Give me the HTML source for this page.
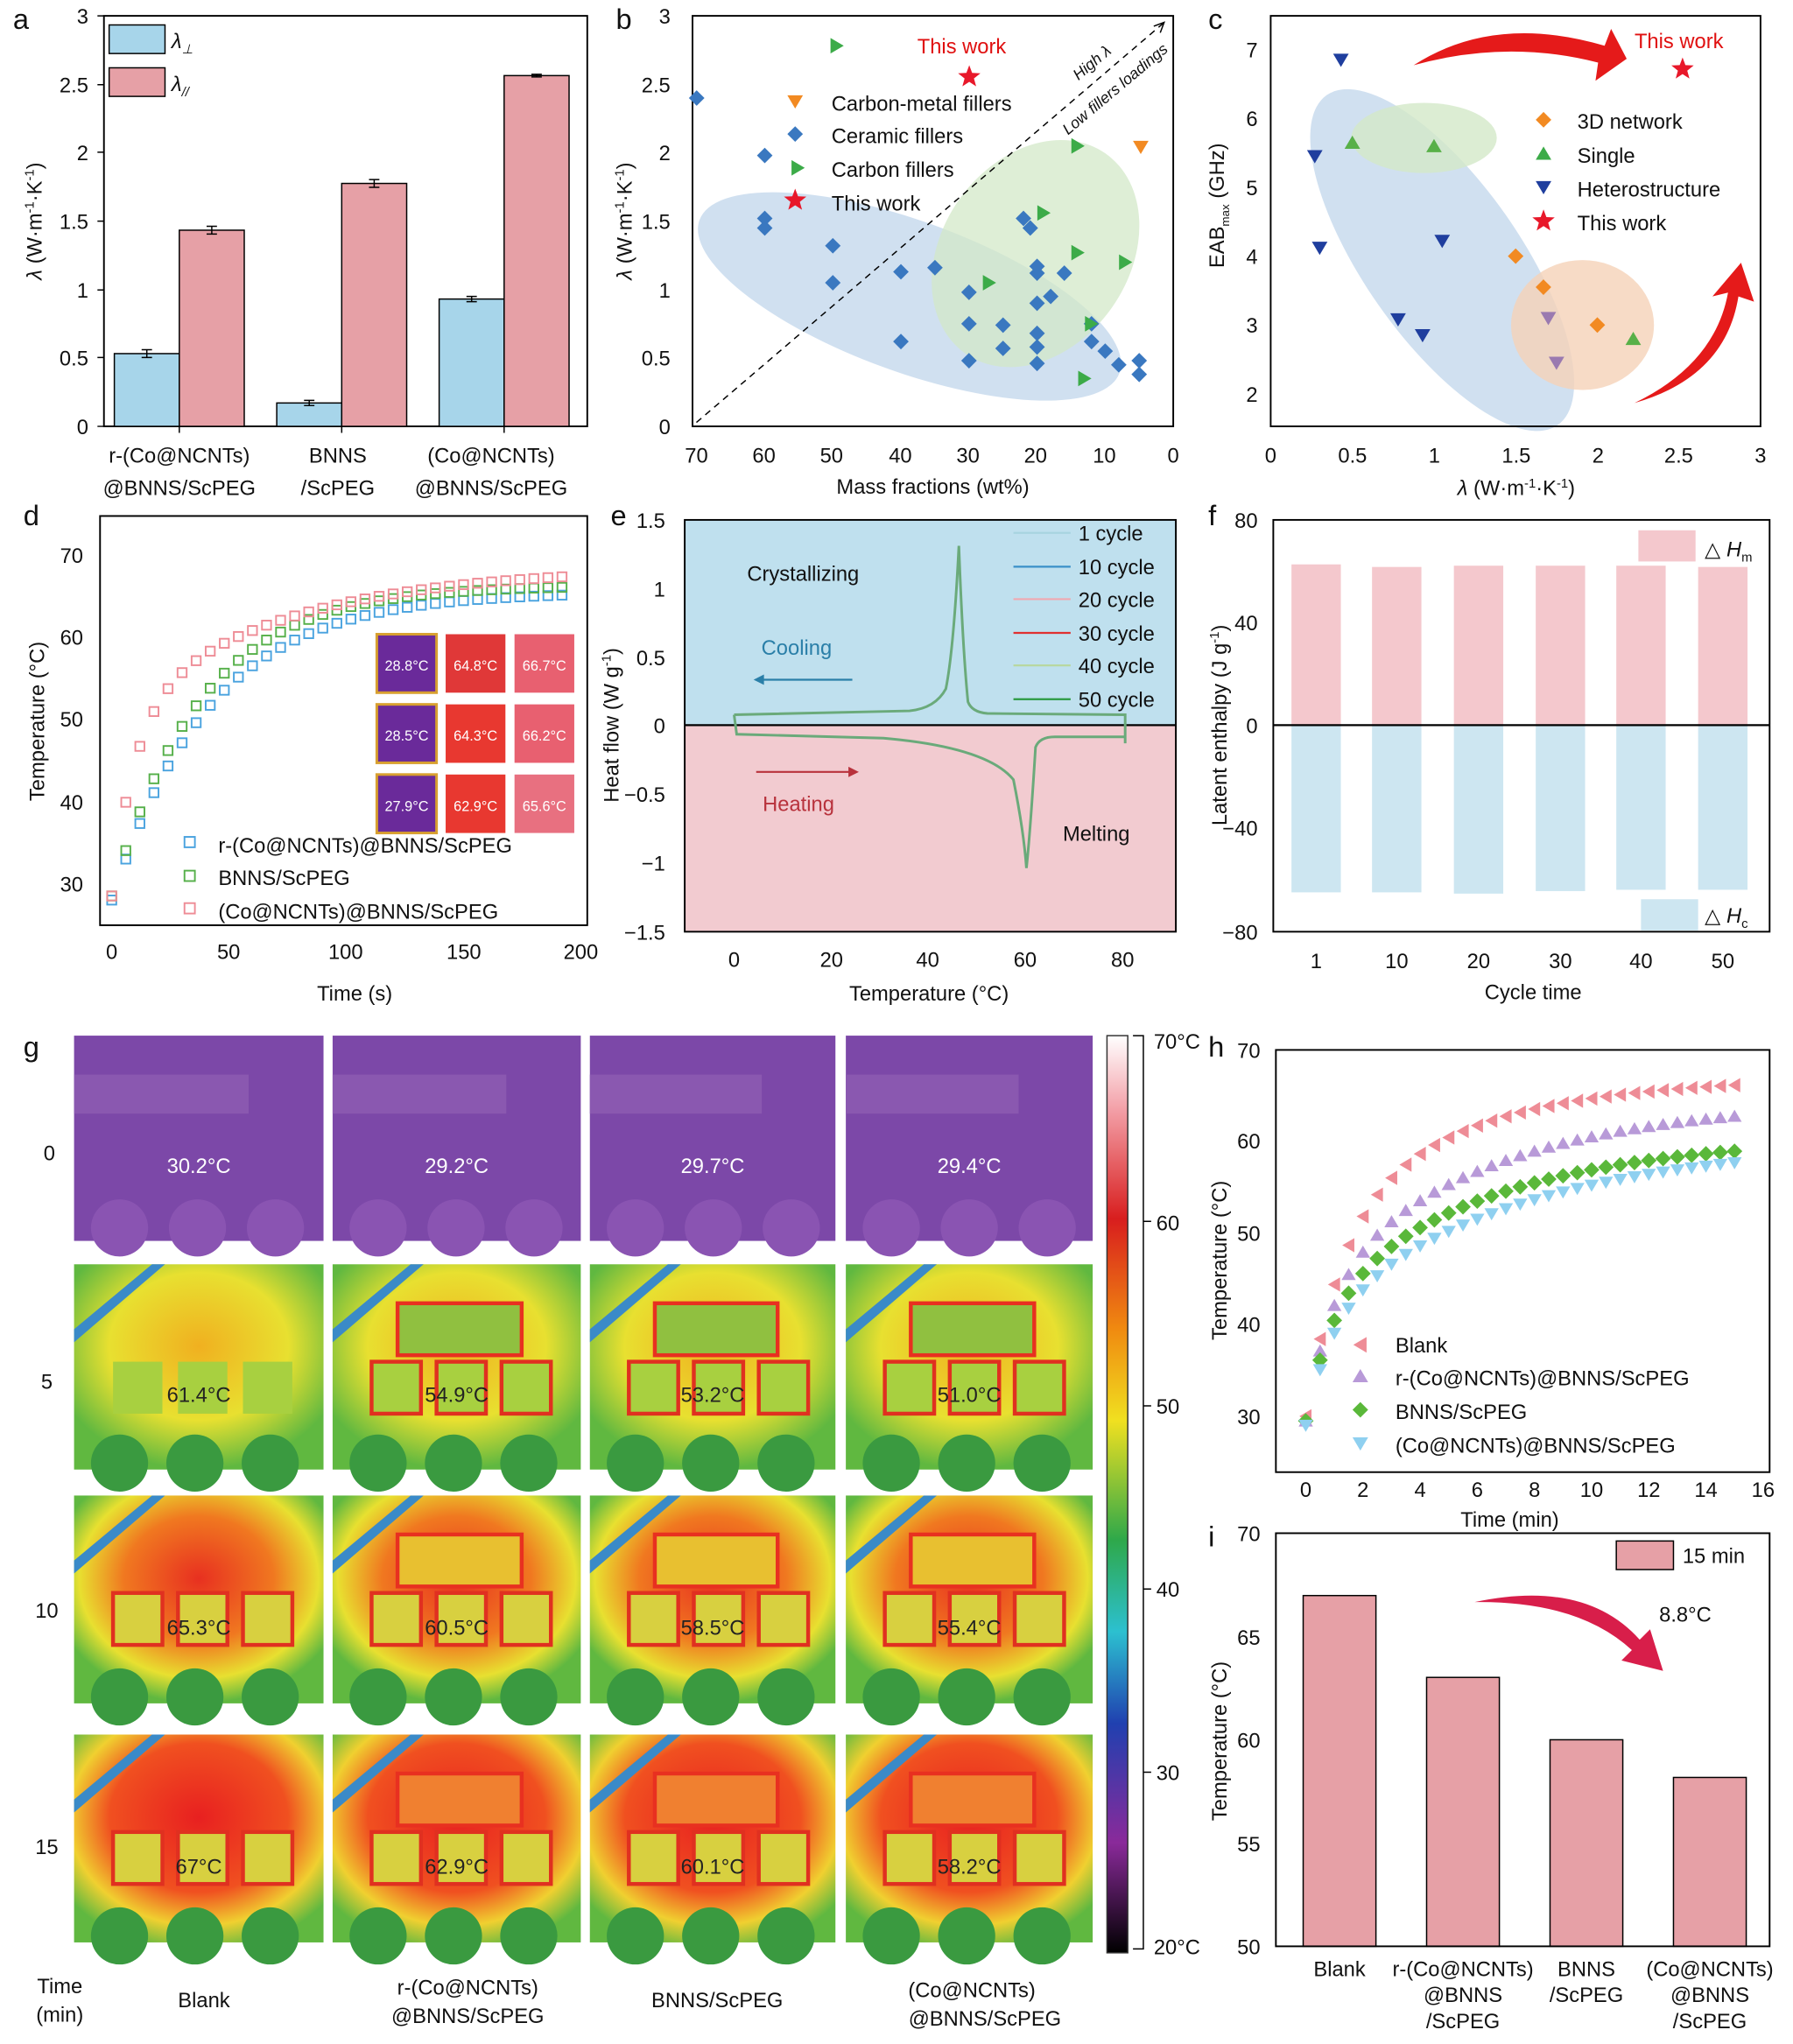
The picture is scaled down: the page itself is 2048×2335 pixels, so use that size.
<!DOCTYPE html>
<html><head><meta charset="utf-8"><style>
html,body{margin:0;padding:0;background:#fff}
svg{display:block}
text{font-family:"Liberation Sans",Arial,sans-serif;fill:#111}
</style></head><body>
<svg id="s" width="2048" height="2335" viewBox="0 0 1380 1573" xmlns="http://www.w3.org/2000/svg">
<defs>
<linearGradient id="cb" x1="0" y1="0" x2="0" y2="1">
<stop offset="0" stop-color="#fff"/><stop offset="0.08" stop-color="#f3a0a8"/><stop offset="0.2" stop-color="#d81e1e"/><stop offset="0.32" stop-color="#f08a10"/><stop offset="0.42" stop-color="#f0e020"/><stop offset="0.55" stop-color="#2ea84a"/><stop offset="0.65" stop-color="#2cc0d0"/><stop offset="0.75" stop-color="#2040b0"/><stop offset="0.88" stop-color="#8a2a9a"/><stop offset="1" stop-color="#000"/></linearGradient>
<radialGradient id="r5" cx="0.5" cy="0.4" r="0.6"><stop offset="0" stop-color="#f0b020"/><stop offset="0.6" stop-color="#e8e030"/><stop offset="1" stop-color="#60b840"/></radialGradient>
<radialGradient id="r10" cx="0.5" cy="0.4" r="0.6"><stop offset="0" stop-color="#e83020"/><stop offset="0.5" stop-color="#f07820"/><stop offset="0.8" stop-color="#e8e030"/><stop offset="1" stop-color="#60b840"/></radialGradient>
<radialGradient id="r15" cx="0.5" cy="0.4" r="0.65"><stop offset="0" stop-color="#e82020"/><stop offset="0.55" stop-color="#f05020"/><stop offset="0.8" stop-color="#f0d030"/><stop offset="1" stop-color="#60b840"/></radialGradient>
</defs>
<g id="root" font-size="16"></g>

<!-- Panel a -->
<text x="10" y="22" font-size="22">a</text>
<rect x="80" y="12" width="372" height="316" fill="none" stroke="#000" stroke-width="1.3"/>
<rect x="88" y="272" width="50" height="56" fill="#a7d5ea" stroke="#000"/>
<rect x="138" y="177" width="50" height="151" fill="#e6a0a6" stroke="#000"/>
<rect x="213" y="310" width="50" height="18" fill="#a7d5ea" stroke="#000"/>
<rect x="263" y="141" width="50" height="187" fill="#e6a0a6" stroke="#000"/>
<rect x="338" y="230" width="50" height="98" fill="#a7d5ea" stroke="#000"/>
<rect x="388" y="58" width="50" height="270" fill="#e6a0a6" stroke="#000"/>
<g stroke="#000"><path d="M113 269v6M109 269h8M109 275h8M163 174v6M159 174h8M159 180h8M238 308v4M234 308h8M234 312h8M288 138v6M284 138h8M284 144h8M363 228v4M359 228h8M359 232h8M413 57v2M409 57h8M409 59h8"/>
<path d="M80 328h-5M80 275h-5M80 223h-5M80 170h-5M80 117h-5M80 65h-5M80 12h-5M138 328v5M263 328v5M388 328v5"/></g>
<g text-anchor="end"><text x="68" y="334">0</text><text x="68" y="281">0.5</text><text x="68" y="229">1</text><text x="68" y="176">1.5</text><text x="68" y="123">2</text><text x="68" y="71">2.5</text><text x="68" y="18">3</text></g>
<rect x="84" y="19" width="43" height="22" fill="#a7d5ea" stroke="#000"/><text x="132" y="37" font-style="italic">λ<tspan font-size="10" dy="4">⊥</tspan></text>
<rect x="84" y="52" width="43" height="22" fill="#e6a0a6" stroke="#000"/><text x="132" y="70" font-style="italic">λ<tspan font-size="10" dy="4">//</tspan></text>
<text transform="translate(32,170) rotate(-90)" text-anchor="middle"><tspan font-style="italic">λ</tspan> (W·m<tspan font-size="10" dy="-6">-1</tspan><tspan dy="6">·K</tspan><tspan font-size="10" dy="-6">-1</tspan><tspan dy="6">)</tspan></text>
<g text-anchor="middle"><text x="138" y="356">r-(Co@NCNTs)</text><text x="138" y="381">@BNNS/ScPEG</text><text x="260" y="356">BNNS</text><text x="260" y="381">/ScPEG</text><text x="378" y="356">(Co@NCNTs)</text><text x="378" y="381">@BNNS/ScPEG</text></g>

<!-- Panel b -->
<text x="474" y="22" font-size="22">b</text>
<ellipse cx="700" cy="228" rx="172" ry="58" transform="rotate(20 700 228)" fill="#bcd3ea" opacity="0.7"/>
<ellipse cx="797" cy="195" rx="72" ry="94" transform="rotate(35 797 195)" fill="#d3e8c8" opacity="0.75"/>
<rect x="533" y="12" width="370" height="316" fill="none" stroke="#000" stroke-width="1.3"/>
<path d="M536 325L895 18" stroke="#000" stroke-dasharray="5,4" fill="none"/><path d="M888 20l8-3-3 8" stroke="#000" fill="none"/>
<text transform="translate(830,62) rotate(-40)" font-size="12" font-style="italic">High λ</text>
<text transform="translate(822,104) rotate(-40)" font-size="12" font-style="italic">Low fillers loadings</text>
<g text-anchor="end"><text x="516" y="334">0</text><text x="516" y="281">0.5</text><text x="516" y="229">1</text><text x="516" y="176">1.5</text><text x="516" y="123">2</text><text x="516" y="71">2.5</text><text x="516" y="18">3</text></g>
<g text-anchor="middle"><text x="536" y="356">70</text><text x="588" y="356">60</text><text x="640" y="356">50</text><text x="693" y="356">40</text><text x="745" y="356">30</text><text x="797" y="356">20</text><text x="850" y="356">10</text><text x="903" y="356">0</text><text x="718" y="380">Mass fractions (wt%)</text></g>
<text transform="translate(486,170) rotate(-90)" text-anchor="middle"><tspan font-style="italic">λ</tspan> (W·m<tspan font-size="10" dy="-6">-1</tspan><tspan dy="6">·K</tspan><tspan font-size="10" dy="-6">-1</tspan><tspan dy="6">)</tspan></text>
<text x="706" y="41" style="fill:#e01010">This work</text>
<text x="640" y="85">Carbon-metal fillers</text><text x="640" y="110">Ceramic fillers</text><text x="640" y="136">Carbon fillers</text><text x="640" y="162">This work</text>
<g id="bpts"></g>

<!-- Panel c -->
<text x="930" y="22" font-size="22">c</text>
<ellipse cx="1110" cy="200" rx="155" ry="60" transform="rotate(55 1110 200)" fill="#bcd3ea" opacity="0.7"/>
<ellipse cx="1096" cy="106" rx="56" ry="27" fill="#d3e8c8" opacity="0.8"/>
<ellipse cx="1218" cy="250" rx="55" ry="50" fill="#f5d2b8" opacity="0.8"/>
<rect x="978" y="12" width="377" height="316" fill="none" stroke="#000" stroke-width="1.3"/>
<g text-anchor="end"><text x="968" y="309">2</text><text x="968" y="256">3</text><text x="968" y="203">4</text><text x="968" y="150">5</text><text x="968" y="97">6</text><text x="968" y="44">7</text></g>
<g text-anchor="middle"><text x="978" y="356">0</text><text x="1041" y="356">0.5</text><text x="1104" y="356">1</text><text x="1167" y="356">1.5</text><text x="1230" y="356">2</text><text x="1292" y="356">2.5</text><text x="1355" y="356">3</text>
<text x="1167" y="381"><tspan font-style="italic">λ</tspan> (W·m<tspan font-size="10" dy="-6">-1</tspan><tspan dy="6">·K</tspan><tspan font-size="10" dy="-6">-1</tspan><tspan dy="6">)</tspan></text></g>
<text transform="translate(942,158) rotate(-90)" text-anchor="middle">EAB<tspan font-size="9" dy="4">max</tspan><tspan dy="-4"> (GHz)</tspan></text>
<text x="1258" y="37" style="fill:#e01010">This work</text>
<text x="1214" y="99">3D network</text><text x="1214" y="125">Single</text><text x="1214" y="151">Heterostructure</text><text x="1214" y="177">This work</text>
<path d="M1088 50Q1150 10 1235 35L1240 22L1252 45L1228 62L1230 48Q1160 30 1088 50Z" fill="#e51a1a"/>
<path d="M1258 310Q1320 280 1330 225L1318 228L1340 202L1350 232L1338 228Q1328 290 1258 310Z" fill="#e51a1a"/>
<g id="cpts"></g>

<!-- Panel d -->
<text x="18" y="404" font-size="22">d</text>
<rect x="77" y="397" width="375" height="315" fill="none" stroke="#000" stroke-width="1.3"/>
<g text-anchor="end"><text x="64" y="433">70</text><text x="64" y="496">60</text><text x="64" y="559">50</text><text x="64" y="623">40</text><text x="64" y="686">30</text></g>
<g text-anchor="middle"><text x="86" y="738">0</text><text x="176" y="738">50</text><text x="266" y="738">100</text><text x="357" y="738">150</text><text x="447" y="738">200</text><text x="273" y="770">Time (s)</text></g>
<text transform="translate(34,555) rotate(-90)" text-anchor="middle">Temperature (°C)</text>
<g id="dpts"></g>
<g id="dimg"></g>
<rect x="142" y="644" width="8" height="8" fill="none" stroke="#4aa3df" stroke-width="1.3"/><text x="168" y="656">r-(Co@NCNTs)@BNNS/ScPEG</text>
<rect x="142" y="670" width="8" height="8" fill="none" stroke="#56b04a" stroke-width="1.3"/><text x="168" y="681">BNNS/ScPEG</text>
<rect x="142" y="695" width="8" height="8" fill="none" stroke="#ee8c96" stroke-width="1.3"/><text x="168" y="707">(Co@NCNTs)@BNNS/ScPEG</text>

<!-- Panel e -->
<text x="470" y="404" font-size="22">e</text>
<rect x="527" y="400" width="378" height="158" fill="#bfe0ee"/>
<rect x="527" y="558" width="378" height="159" fill="#f2cbd0"/>
<rect x="527" y="400" width="378" height="317" fill="none" stroke="#000" stroke-width="1.3"/>
<path d="M527 558H905" stroke="#000" stroke-width="1.5"/>
<g text-anchor="end"><text x="512" y="406">1.5</text><text x="512" y="459">1</text><text x="512" y="512">0.5</text><text x="512" y="564">0</text><text x="512" y="617">−0.5</text><text x="512" y="670">−1</text><text x="512" y="723">−1.5</text></g>
<g text-anchor="middle"><text x="565" y="744">0</text><text x="640" y="744">20</text><text x="714" y="744">40</text><text x="789" y="744">60</text><text x="864" y="744">80</text><text x="715" y="770">Temperature (°C)</text></g>
<text transform="translate(476,558) rotate(-90)" text-anchor="middle">Heat flow (W g<tspan font-size="10" dy="-6">-1</tspan><tspan dy="6">)</tspan></text>
<path d="M565 550L700 547Q720 545 728 530Q734 500 738 420Q741 500 745 540Q748 548 760 549L866 550L866 572M565 550L567 565L680 568Q760 575 780 600Q788 640 790 668Q793 640 797 575Q800 567 812 567L866 567" fill="none" stroke="#6aaa7a" stroke-width="2"/>
<text x="575" y="447">Crystallizing</text>
<text x="586" y="504" style="fill:#2a7fa8">Cooling</text><path d="M656 523H586" stroke="#2a7fa8" stroke-width="1.5"/><path d="M580 523l8-4v8z" fill="#2a7fa8"/>
<text x="587" y="624" style="fill:#b8323c">Heating</text><path d="M582 594H655" stroke="#b8323c" stroke-width="1.5"/><path d="M661 594l-8-4v8z" fill="#b8323c"/>
<text x="818" y="647">Melting</text>
<g stroke-width="1.5"><path d="M780 410h44" stroke="#a8d4e0"/><path d="M780 436h44" stroke="#3a90c8"/><path d="M780 461h44" stroke="#f0a8b0"/><path d="M780 487h44" stroke="#e03030"/><path d="M780 512h44" stroke="#b8d8a0"/><path d="M780 538h44" stroke="#2a9a40"/></g>
<text x="830" y="416">1 cycle</text><text x="830" y="442">10 cycle</text><text x="830" y="467">20 cycle</text><text x="830" y="493">30 cycle</text><text x="830" y="518">40 cycle</text><text x="830" y="544">50 cycle</text>

<!-- Panel f -->
<text x="930" y="404" font-size="22">f</text>
<g id="fbars"></g>
<rect x="980" y="400" width="382" height="317" fill="none" stroke="#000" stroke-width="1.3"/>
<path d="M980 558H1362" stroke="#000" stroke-width="1.5"/>
<g text-anchor="end"><text x="968" y="406">80</text><text x="968" y="485">40</text><text x="968" y="564">0</text><text x="968" y="643">−40</text><text x="968" y="723">−80</text></g>
<g text-anchor="middle"><text x="1013" y="745">1</text><text x="1075" y="745">10</text><text x="1138" y="745">20</text><text x="1201" y="745">30</text><text x="1263" y="745">40</text><text x="1326" y="745">50</text><text x="1180" y="769">Cycle time</text></g>
<text transform="translate(944,558) rotate(-90)" text-anchor="middle">Latent enthalpy (J g<tspan font-size="10" dy="-6">-1</tspan><tspan dy="6">)</tspan></text>
<rect x="1261" y="408" width="44" height="24" fill="#f4c8cd"/><text x="1312" y="428">△ <tspan font-style="italic">H</tspan><tspan font-size="10" dy="4">m</tspan></text>
<rect x="1263" y="692" width="44" height="24" fill="#cde6f1"/><text x="1312" y="710">△ <tspan font-style="italic">H</tspan><tspan font-size="10" dy="4">c</tspan></text>

<!-- Panel g -->
<text x="18" y="813" font-size="22">g</text>
<g id="gimgs"></g>
<g text-anchor="middle"><text x="38" y="893">0</text><text x="36" y="1069">5</text><text x="36" y="1245">10</text><text x="36" y="1427">15</text>
<text x="46" y="1534">Time</text><text x="46" y="1556">(min)</text><text x="157" y="1545">Blank</text><text x="360" y="1535">r-(Co@NCNTs)</text><text x="360" y="1557">@BNNS/ScPEG</text><text x="552" y="1545">BNNS/ScPEG</text><text x="748" y="1537">(Co@NCNTs)</text><text x="758" y="1559">@BNNS/ScPEG</text></g>
<rect x="852" y="797" width="16" height="706" fill="url(#cb)" stroke="#333"/>
<path d="M872 797H880V1500H872M880 940h6M880 1082h6M880 1223h6M880 1364h6" stroke="#000" fill="none"/>
<text x="888" y="807">70°C</text><text x="890" y="947">60</text><text x="890" y="1088">50</text><text x="890" y="1229">40</text><text x="890" y="1370">30</text><text x="888" y="1504">20°C</text>

<!-- Panel h -->
<text x="930" y="813" font-size="22">h</text>
<rect x="982" y="808" width="380" height="325" fill="none" stroke="#000" stroke-width="1.3"/>
<g text-anchor="end"><text x="970" y="814">70</text><text x="970" y="884">60</text><text x="970" y="955">50</text><text x="970" y="1025">40</text><text x="970" y="1096">30</text></g>
<g text-anchor="middle"><text x="1005" y="1152">0</text><text x="1049" y="1152">2</text><text x="1093" y="1152">4</text><text x="1137" y="1152">6</text><text x="1181" y="1152">8</text><text x="1225" y="1152">10</text><text x="1269" y="1152">12</text><text x="1313" y="1152">14</text><text x="1357" y="1152">16</text><text x="1162" y="1175">Time (min)</text></g>
<text transform="translate(944,970) rotate(-90)" text-anchor="middle">Temperature (°C)</text>
<g id="hpts"></g>
<text x="1074" y="1041">Blank</text><text x="1074" y="1066">r-(Co@NCNTs)@BNNS/ScPEG</text><text x="1074" y="1092">BNNS/ScPEG</text><text x="1074" y="1118">(Co@NCNTs)@BNNS/ScPEG</text>

<!-- Panel i -->
<text x="930" y="1190" font-size="22">i</text>
<rect x="1003" y="1228" width="56" height="270" fill="#e6a0a6" stroke="#000"/>
<rect x="1098" y="1291" width="56" height="207" fill="#e6a0a6" stroke="#000"/>
<rect x="1193" y="1339" width="56" height="159" fill="#e6a0a6" stroke="#000"/>
<rect x="1288" y="1368" width="56" height="130" fill="#e6a0a6" stroke="#000"/>
<rect x="982" y="1180" width="380" height="318" fill="none" stroke="#000" stroke-width="1.3"/>
<g text-anchor="end"><text x="970" y="1186">70</text><text x="970" y="1266">65</text><text x="970" y="1345">60</text><text x="970" y="1425">55</text><text x="970" y="1504">50</text></g>
<text transform="translate(944,1340) rotate(-90)" text-anchor="middle">Temperature (°C)</text>
<g text-anchor="middle"><text x="1031" y="1521">Blank</text><text x="1126" y="1521">r-(Co@NCNTs)</text><text x="1126" y="1541">@BNNS</text><text x="1126" y="1561">/ScPEG</text><text x="1221" y="1521">BNNS</text><text x="1221" y="1541">/ScPEG</text><text x="1316" y="1521">(Co@NCNTs)</text><text x="1316" y="1541">@BNNS</text><text x="1316" y="1561">/ScPEG</text></g>
<rect x="1244" y="1186" width="44" height="22" fill="#e6a0a6" stroke="#000"/><text x="1295" y="1203">15 min</text>
<text x="1277" y="1248">8.8°C</text>
<path d="M1135 1233Q1220 1215 1262 1262L1270 1254L1280 1286L1248 1278L1256 1270Q1215 1232 1135 1233Z" fill="#d81e4a"/>

<script>
var NS="http://www.w3.org/2000/svg";
function el(p,t,a){var e=document.createElementNS(NS,t);for(var k in a)e.setAttribute(k,a[k]);document.getElementById(p).appendChild(e);return e;}
function dia(p,x,y,c,s){s=s||6;el(p,"path",{d:"M"+x+" "+(y-s)+"L"+(x+s)+" "+y+"L"+x+" "+(y+s)+"L"+(x-s)+" "+y+"Z",fill:c});}
function tri(p,x,y,c,dir,s){s=s||6;var d;
 if(dir=="d")d="M"+(x-s)+" "+(y-s*0.8)+"L"+(x+s)+" "+(y-s*0.8)+"L"+x+" "+(y+s*0.9)+"Z";
 else if(dir=="u")d="M"+(x-s)+" "+(y+s*0.8)+"L"+(x+s)+" "+(y+s*0.8)+"L"+x+" "+(y-s*0.9)+"Z";
 else if(dir=="r")d="M"+(x-s*0.8)+" "+(y-s)+"L"+(x-s*0.8)+" "+(y+s)+"L"+(x+s*0.9)+" "+y+"Z";
 else d="M"+(x+s*0.8)+" "+(y-s)+"L"+(x+s*0.8)+" "+(y+s)+"L"+(x-s*0.9)+" "+y+"Z";
 el(p,"path",{d:d,fill:c});}
function star(p,x,y,c,r){var d="";for(var i=0;i<10;i++){var a=-Math.PI/2+i*Math.PI/5,rr=i%2?r*0.42:r;d+=(i?"L":"M")+(x+rr*Math.cos(a)).toFixed(1)+" "+(y+rr*Math.sin(a)).toFixed(1);}el(p,"path",{d:d+"Z",fill:c});}
var bx=function(v){return 903-v*5.24},by=function(v){return 328-v*105.3};
var B="#3a78c0",G="#3cab48",O="#f28a22",R="#e8182a";
[[70,2.4],[60,1.98],[60,1.52],[60,1.45],[50,1.32],[50,1.05],[40,1.13],[40,0.62],[35,1.16],[30,0.75],[30,0.48],[25,0.57],[22,1.52],[21,1.45],[20,1.17],[20,1.12],[20,0.9],[20,0.68],[20,0.58],[20,0.46],[18,0.95],[16,1.12],[12,0.75],[12,0.62],[10,0.55],[8,0.45],[5,0.48],[5,0.38],[30,0.98],[25,0.74]].forEach(function(p){dia("bpts",bx(p[0]),by(p[1]),B,6)});
[[20,1.56],[15,1.27],[8,1.2],[15,2.05],[28,1.05],[13,0.75],[14,0.35]].forEach(function(p){tri("bpts",bx(p[0])+5,by(p[1]),G,"r",6)});
tri("bpts",878,113,O,"d",6);tri("bpts",644,35,G,"r",6);star("bpts",746,59,R,9);
tri("bpts",612,78,O,"d",6);dia("bpts",612,103,B,6);tri("bpts",614,129,G,"r",6);star("bpts",612,154,R,9);
var cx=function(v){return 978+v*125.7},cy=function(v){return 303-(v-2)*53};
var DB="#1f3e9e";
[[0.43,6.85],[0.27,5.45],[0.3,4.12],[0.78,3.08],[0.93,2.85],[1.05,4.22]].forEach(function(p){tri("cpts",cx(p[0]),cy(p[1]),DB,"d",6)});
[[1.7,3.1],[1.75,2.45]].forEach(function(p){tri("cpts",cx(p[0]),cy(p[1]),"#9a7ab0","d",6)});
[[0.5,5.65],[1.0,5.6],[2.22,2.8]].forEach(function(p){tri("cpts",cx(p[0]),cy(p[1]),"#58b048","u",6)});
[[1.5,4.0],[1.67,3.55],[2.0,3.0]].forEach(function(p){dia("cpts",cx(p[0]),cy(p[1]),O,6)});
star("cpts",1295,53,R,9);
dia("cpts",1188,92,O,6);tri("cpts",1188,118,G,"u",6);tri("cpts",1188,144,DB,"d",6);star("cpts",1188,170,R,9);
var dx=function(t){return 86+t*1.805},dy=function(T){return 680-(T-30)*6.325};
for(var t=0;t<=196;t+=6){
 var Tb=28+37.5*(1-Math.exp(-t/42)),Tg=28.5+37.8*(1-Math.exp(-t/38)),Tp=28.5+22*(1-Math.exp(-t/10))+18*(1-Math.exp(-t/70));
 [[Tb,"#4aa3df"],[Tg,"#56b04a"],[Tp,"#ee8c96"]].forEach(function(q){el("dpts","rect",{x:dx(t)-3.5,y:dy(q[0])-3.5,width:7,height:7,fill:"none",stroke:q[1],"stroke-width":1.3})});}
var ins=[["#6a2a9a","#e03838","#e86070"],["#6a2a9a","#e83830","#e86070"],["#6a2a9a","#e83830","#e87080"]];
var lab=[["28.8°C","64.8°C","66.7°C"],["28.5°C","64.3°C","66.2°C"],["27.9°C","62.9°C","65.6°C"]];
for(var r=0;r<3;r++)for(var c=0;c<3;c++){var X=290+c*53,Y=488+r*54;
 el("dimg","rect",{x:X,y:Y,width:46,height:45,fill:ins[r][c],stroke:c==0?"#d8a030":"none","stroke-width":2});
 var tx=el("dimg","text",{x:X+23,y:Y+28,"text-anchor":"middle","font-size":"11",style:"fill:#fff"});tx.textContent=lab[r][c];}
var fx=[1013,1075,1138,1201,1263,1326],hm=[62.5,61.5,62,62,62,61.5],hc=[-65,-65,-65.5,-64.5,-64,-64];
fx.forEach(function(x,i){el("fbars","rect",{x:x-19,y:558-hm[i]*1.98,width:38,height:hm[i]*1.98,fill:"#f4c8cd"});el("fbars","rect",{x:x-19,y:558,width:38,height:-hc[i]*1.98,fill:"#cde6f1"});});
var hx=function(t){return 1005+t*22},hy=function(T){return 1090-(T-30)*7.05};
for(var t=0;t<=15.01;t+=0.5){
 tri("hpts",hx(t),hy(30+20*(1-Math.exp(-t/1.2))+17*(1-Math.exp(-t/5))),"#ee8c96","l",5.5);
 tri("hpts",hx(t),hy(29.5+14*(1-Math.exp(-t/0.9))+21*(1-Math.exp(-t/6))),"#b89ad8","u",5.5);
 dia("hpts",hx(t),hy(29.5+12*(1-Math.exp(-t/0.9))+19*(1-Math.exp(-t/6))),"#5ab83a",6);
 tri("hpts",hx(t),hy(29+11*(1-Math.exp(-t/0.9))+20*(1-Math.exp(-t/7))),"#8fd0f0","d",5.5);}
tri("hpts",1047,1035,"#ee8c96","l",6);tri("hpts",1047,1059,"#b89ad8","u",6);dia("hpts",1047,1085,"#5ab83a",6);tri("hpts",1047,1111,"#8fd0f0","d",6);
var cols=[57,256,454,651],ws=[192,191,189,190],rows=[[797,158],[973,158],[1151,160],[1335,160]];
var grads=["#7c48a8","url(#r5)","url(#r10)","url(#r15)"];
var L=[["30.2°C","29.2°C","29.7°C","29.4°C"],["61.4°C","54.9°C","53.2°C","51.0°C"],["65.3°C","60.5°C","58.5°C","55.4°C"],["67°C","62.9°C","60.1°C","58.2°C"]];
for(var r=0;r<4;r++)for(var c=0;c<4;c++){var X=cols[c],Y=rows[r][0],W=ws[c],H=rows[r][1];
 el("gimgs","rect",{x:X,y:Y,width:W,height:H,fill:grads[r]});
 if(r==0){el("gimgs","rect",{x:X,y:Y+30,width:W*0.7,height:30,fill:"#8a58b0"});
  for(var k=0;k<3;k++)el("gimgs","circle",{cx:X+35+k*60,cy:Y+H-10,r:22,fill:"#8a54b2"});}
 else{
  el("gimgs","path",{d:"M"+X+" "+(Y+50)+"L"+(X+60)+" "+Y+"L"+(X+70)+" "+Y+"L"+X+" "+(Y+60)+"Z",fill:"#3a8ac8"});
  if(c>0)el("gimgs","rect",{x:X+50,y:Y+30,width:W*0.5,height:40,fill:r==1?"#90c040":(r==2?"#e8c030":"#f08030"),stroke:"#e83020","stroke-width":3});
  for(var k=0;k<3;k++){el("gimgs","rect",{x:X+30+k*50,y:Y+75,width:38,height:40,fill:r==1?"#a8d040":"#d8d040",stroke:"#e03020","stroke-width":c>0||r>1?3:0});
   el("gimgs","circle",{cx:X+35+k*58,cy:Y+H-5,r:22,fill:"#3a9a40"});}
 }
 var tx=el("gimgs","text",{x:X+W/2,y:Y+H*0.67,"text-anchor":"middle","font-size":"16",style:r==0?"fill:#fff":"fill:#222"});tx.textContent=L[r][c];}
</script>
</svg>
</body></html>
